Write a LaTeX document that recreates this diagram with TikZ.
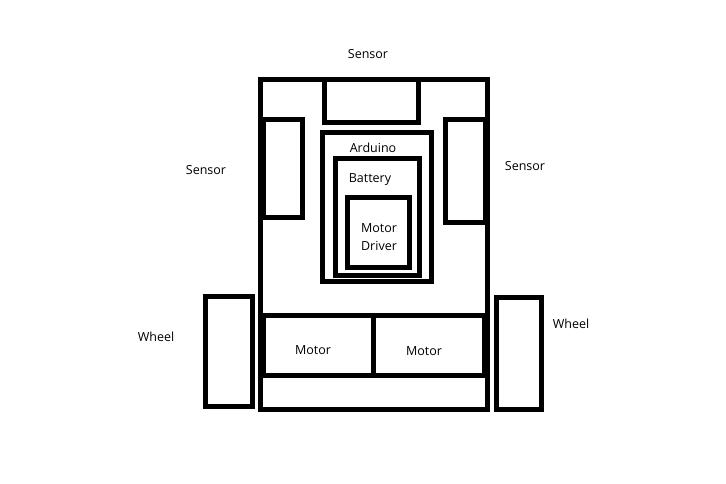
\documentclass[tikz,border=0pt]{standalone}
\usepackage{fontspec}
\setmainfont{Open Sans}
\usepackage{tikz}

\begin{document}
\begin{tikzpicture}[x=1pt,y=-1pt,
      part/.style={draw=black,line width=5pt},
      lbl/.style={font=\fontsize{12.5}{18}\selectfont,inner sep=0pt,align=center}]
      \useasboundingbox (0,0) rectangle (726,484);
      % Chassis
      \draw[part] (260.5,79.5) rectangle (487.5,409.5);
      % Sensors
      \draw[part] (324.5,79.5) rectangle (418.5,123);
      \draw[part] (263,119.5) rectangle (302.5,217);
      \draw[part] (445.5,119.5) rectangle (485,222);
      % Arduino, battery, driver
      \draw[part] (322.5,132.5) rectangle (431.5,281);
      \draw[part] (335.5,158.5) rectangle (419,275);
      \draw[part] (347.5,197.5) rectangle (409,267.5);
      % Motors
      \draw[part] (263.5,315.5) rectangle (484.5,375.5);
      \draw[part] (373.7,315.5) -- (373.7,375.5);
      % Wheels
      \draw[part] (205,296) rectangle (252,406);
      \draw[part] (496,297) rectangle (541,409);
      % Labels
      \node[lbl] (sensTop) at (368,54) {Sensor};
      \node[lbl] (sensLeft) at (206,170) {Sensor};
      \node[lbl] (sensRight) at (525,166) {Sensor};
      \node[lbl] (arduino) at (373,148) {Arduino};
      \node[lbl] (battery) at (370,180) {Battery};
      \node[lbl] (driver) at (379,237) {Motor\\Driver};
      \node[lbl] (motorL) at (313,350) {Motor};
      \node[lbl] (motorR) at (424,351) {Motor};
      \node[lbl] (wheelL) at (156,337) {Wheel};
      \node[lbl] (wheelR) at (571,324) {Wheel};
    \end{tikzpicture}
\end{document}
